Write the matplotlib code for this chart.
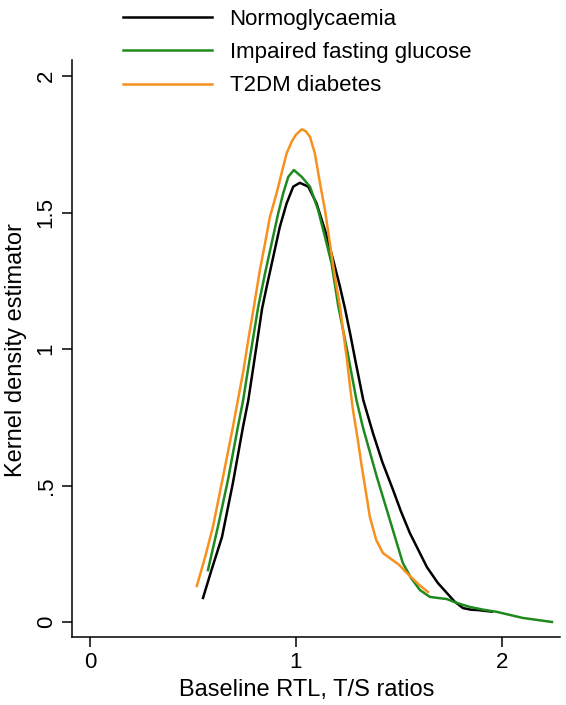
import matplotlib.pyplot as plt

plt.rcParams['font.family'] = ['Liberation Sans', 'DejaVu Sans']

# Kernel density curves
normo_x = [0.549, 0.59, 0.641, 0.694, 0.743, 0.769, 0.79, 0.81, 0.836, 0.858, 0.890, 0.922,
           0.955, 0.987, 1.019, 1.060, 1.100, 1.141, 1.181, 1.214, 1.238, 1.265, 1.288, 1.327,
           1.374, 1.42, 1.471, 1.51, 1.553, 1.636, 1.689, 1.733, 1.77, 1.811, 1.85, 1.879, 1.95]
normo_y = [0.088, 0.19, 0.311, 0.509, 0.714, 0.813, 0.918, 1.018, 1.149, 1.228, 1.338, 1.448,
           1.534, 1.595, 1.609, 1.595, 1.534, 1.436, 1.326, 1.228, 1.149, 1.05, 0.96, 0.813,
           0.692, 0.585, 0.485, 0.405, 0.326, 0.201, 0.143, 0.106, 0.075, 0.051, 0.045, 0.044, 0.038]

ifg_x = [0.573, 0.621, 0.670, 0.718, 0.744, 0.762, 0.79, 0.817, 0.850, 0.882, 0.914, 0.938,
         0.963, 0.990, 1.028, 1.068, 1.108, 1.141, 1.173, 1.205, 1.25, 1.294, 1.325, 1.393,
         1.456, 1.519, 1.56, 1.602, 1.65, 1.69, 1.733, 1.78, 1.845, 1.91, 1.976, 2.10, 2.243]
ifg_y = [0.19, 0.348, 0.52, 0.714, 0.813, 0.90, 1.03, 1.155, 1.277, 1.387, 1.497, 1.570,
         1.631, 1.656, 1.631, 1.595, 1.509, 1.411, 1.314, 1.16, 0.99, 0.813, 0.714, 0.531,
         0.374, 0.216, 0.16, 0.117, 0.092, 0.088, 0.084, 0.07, 0.055, 0.045, 0.037, 0.015, 0.0]

t2dm_x = [0.519, 0.56, 0.597, 0.646, 0.694, 0.72, 0.745, 0.77, 0.796, 0.825, 0.850, 0.874,
          0.906, 0.930, 0.955, 0.979, 1.0, 1.028, 1.048, 1.068, 1.092, 1.117, 1.141, 1.165,
          1.189, 1.214, 1.232, 1.248, 1.263, 1.277, 1.30, 1.320, 1.34, 1.359, 1.39, 1.422,
          1.456, 1.50, 1.539, 1.60, 1.641]
t2dm_y = [0.132, 0.24, 0.348, 0.531, 0.714, 0.82, 0.92, 1.04, 1.155, 1.289, 1.387, 1.485,
          1.570, 1.643, 1.717, 1.759, 1.785, 1.805, 1.798, 1.778, 1.717, 1.607, 1.509, 1.387,
          1.265, 1.155, 1.05, 0.96, 0.86, 0.777, 0.67, 0.568, 0.475, 0.385, 0.30, 0.253,
          0.234, 0.21, 0.179, 0.135, 0.11]

labels = ["Normoglycaemia", "Impaired fasting glucose", "T2DM diabetes"]
colors = ["black", "#1e8a1e", "#f7901e"]

fig = plt.figure(figsize=(5.66, 7.05), dpi=100)
ax = fig.add_axes([72 / 566, 1 - 637 / 705, 488 / 566, 577 / 705])

for xs, ys, lab, c in zip([normo_x, ifg_x, t2dm_x], [normo_y, ifg_y, t2dm_y], labels, colors):
    ax.plot(xs, ys, color=c, lw=1.8, label=lab, solid_joinstyle='round')

ax.set_xlim(-0.087, 2.282)
ax.set_ylim(-0.055, 2.059)
ax.set_xticks([0, 1, 2])
ax.set_xticklabels(["0", "1", "2"])
ax.set_yticks([0, 0.5, 1, 1.5, 2])
ax.set_yticklabels(["0", ".5", "1", "1.5", "2"], rotation=90, va='center')

for s in ['top', 'right']:
    ax.spines[s].set_visible(False)
for s in ['left', 'bottom']:
    ax.spines[s].set_linewidth(1.1)
ax.tick_params(length=7, width=1.1, labelsize=16, pad=4)

ax.set_xlabel("Baseline RTL, T/S ratios", fontsize=17)
ax.set_ylabel("Kernel density estimator", fontsize=17)
ax.xaxis.set_label_coords(0.48, -0.072)
ax.yaxis.set_label_coords(-0.092, 0.497)

fig.legend(loc='upper left', bbox_to_anchor=(114 / 566, 1.0), frameon=False, fontsize=16,
           handlelength=4.0, handletextpad=0.8, labelspacing=0.55, borderaxespad=0.0)

fig.savefig("out.png", dpi=100)
